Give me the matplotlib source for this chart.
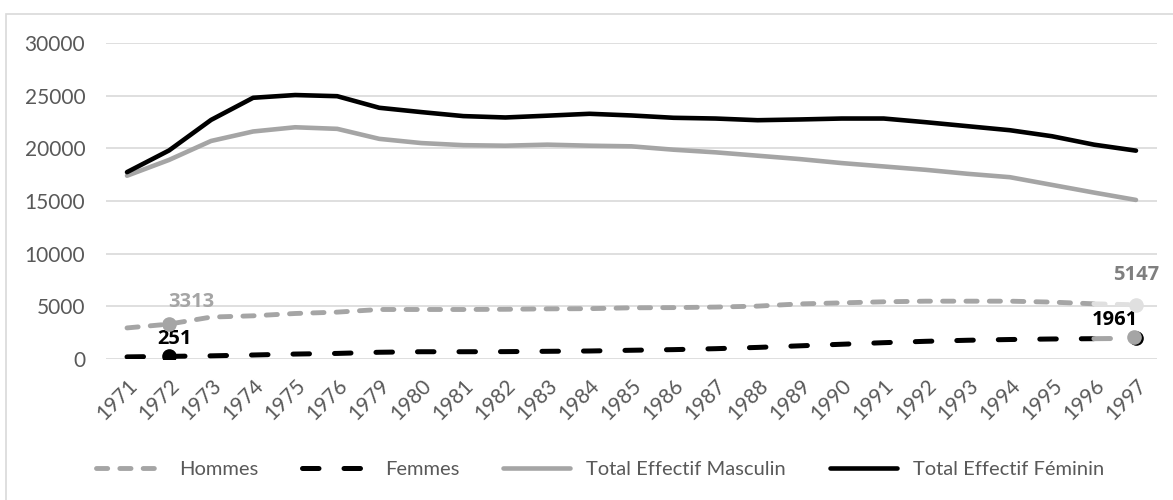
import matplotlib.pyplot as plt
from matplotlib.patches import Rectangle
from matplotlib.transforms import offset_copy

plt.rcParams['font.family'] = ['Lato', 'DejaVu Sans']

years = ['1971', '1972', '1973', '1974', '1975', '1976', '1979', '1980', '1981',
         '1982', '1983', '1984', '1985', '1986', '1987', '1988', '1989', '1990',
         '1991', '1992', '1993', '1994', '1995', '1996', '1997']

hommes = [2950, 3313, 3980, 4100, 4320, 4450, 4700, 4700, 4700, 4720, 4760, 4780,
          4860, 4880, 4930, 5020, 5230, 5330, 5430, 5490, 5490, 5490, 5400, 5240, 5147]
femmes = [200, 251, 300, 380, 470, 530, 640, 690, 690, 700, 730, 760,
          830, 890, 980, 1100, 1250, 1400, 1550, 1680, 1780, 1850, 1900, 1930, 1961]
total_masc = [17400, 18900, 20700, 21600, 22000, 21850, 20900, 20500, 20300, 20250,
              20350, 20250, 20190, 19870, 19620, 19300, 18980, 18600, 18280, 17960,
              17580, 17260, 16530, 15800, 15100]
total_fem = [17740, 19800, 22700, 24800, 25060, 24950, 23850, 23440, 23060, 22930,
             23100, 23280, 23120, 22900, 22830, 22670, 22740, 22830, 22830, 22480,
             22100, 21720, 21150, 20350, 19780]

GRAY = '#a5a5a5'
LIGHT = '#e0e0e0'
TXT = '#595959'
x = list(range(len(years)))

fig = plt.figure(figsize=(11.73, 5.0), dpi=100)
ax = fig.add_axes([106 / 1173, 1 - 359 / 500, 1051 / 1173, 316 / 500])

# chart frame (right and bottom edges fall outside the picture)
fig.patches.append(Rectangle((6 / 1173, -0.05), 1.2, 1.05 - 14 / 500,
                             transform=fig.transFigure, fill=False,
                             edgecolor='#d9d9d9', lw=1.2))

ax.plot(x, total_masc, color=GRAY, lw=3.3, solid_capstyle='round',
        label='Total Effectif Masculin', zorder=3)
ax.plot(x, total_fem, color='black', lw=3.3, solid_capstyle='round',
        label='Total Effectif Féminin', zorder=4)

# Hommes: last segment lighter
lh, = ax.plot(x[:-1], hommes[:-1], color=GRAY, lw=3.5, dashes=(2.3, 2.5),
              dash_capstyle='round', label='Hommes', zorder=3)
ax.plot(x[-2:], hommes[-2:], color=LIGHT, lw=3.5, dashes=(2.3, 2.5),
        dash_capstyle='round', zorder=3)
ax.plot(x[1], hommes[1], 'o', color=GRAY, ms=9.5, zorder=5)
ax.plot(x[-1], hommes[-1], 'o', color=LIGHT, ms=9.5, zorder=5)

# Femmes: last segment gray
lf, = ax.plot(x[:-1], femmes[:-1], color='black', lw=3.6, dashes=(3.3, 5.0),
              dash_capstyle='round', label='Femmes', zorder=3)
ax.plot(x[-2:], femmes[-2:], color=GRAY, lw=3.6, dashes=(3.3, 5.0),
        dash_capstyle='round', zorder=3)
ax.plot(x[1], femmes[1], 'o', color='black', ms=9.5, zorder=5)
ax.plot(x[-1], femmes[-1], 'o', color='black', ms=9.5, zorder=5)
ax.plot(x[-1], femmes[-1], 'o', color=GRAY, ms=9.5, zorder=6,
        transform=offset_copy(ax.transData, fig=fig, x=-1.2, y=1.2, units='points'))

# data labels
lab = dict(textcoords='offset points', va='bottom', fontsize=14.5,
           fontweight='bold', family=['Open Sans', 'DejaVu Sans'])
ax.annotate(f'{hommes[1]}', (x[1], hommes[1]), xytext=(16, 9), ha='center',
            color=GRAY, **lab)
ax.annotate(f'{femmes[1]}', (x[1], femmes[1]), xytext=(4, 5), ha='center',
            color='black', **lab)
ax.annotate(f'{hommes[-1]}', (x[-1], hommes[-1]), xytext=(0, 14), ha='center',
            color='#7f7f7f', **lab)
ax.annotate(f'{femmes[-1]}', (x[-1], femmes[-1]), xytext=(-15, 6), ha='center',
            color='black', **lab)

ax.set_xlim(-0.5, len(years) - 0.5)
ax.set_ylim(0, 30000)
ax.set_yticks(range(0, 30001, 5000))
ax.set_xticks(x)
ax.set_xticklabels(years, rotation=45, ha='right', rotation_mode='anchor')
ax.tick_params(axis='both', length=0, labelsize=15, labelcolor=TXT)
ax.tick_params(axis='y', pad=15)
ax.tick_params(axis='x', pad=12)
ax.grid(axis='y', color='#d9d9d9', lw=1.2)
ax.set_axisbelow(True)
for s in ax.spines.values():
    s.set_visible(False)

handles = [lh, lf, ax.lines[0], ax.lines[1]]
fig.legend(handles, [h.get_label() for h in handles], loc='center',
           bbox_to_anchor=(600 / 1173, 1 - 469 / 500), ncol=4, frameon=False,
           fontsize=14.5, labelcolor=TXT, handlelength=3.3, handletextpad=0.8,
           columnspacing=2.2)

fig.savefig('out.png', dpi=100)
